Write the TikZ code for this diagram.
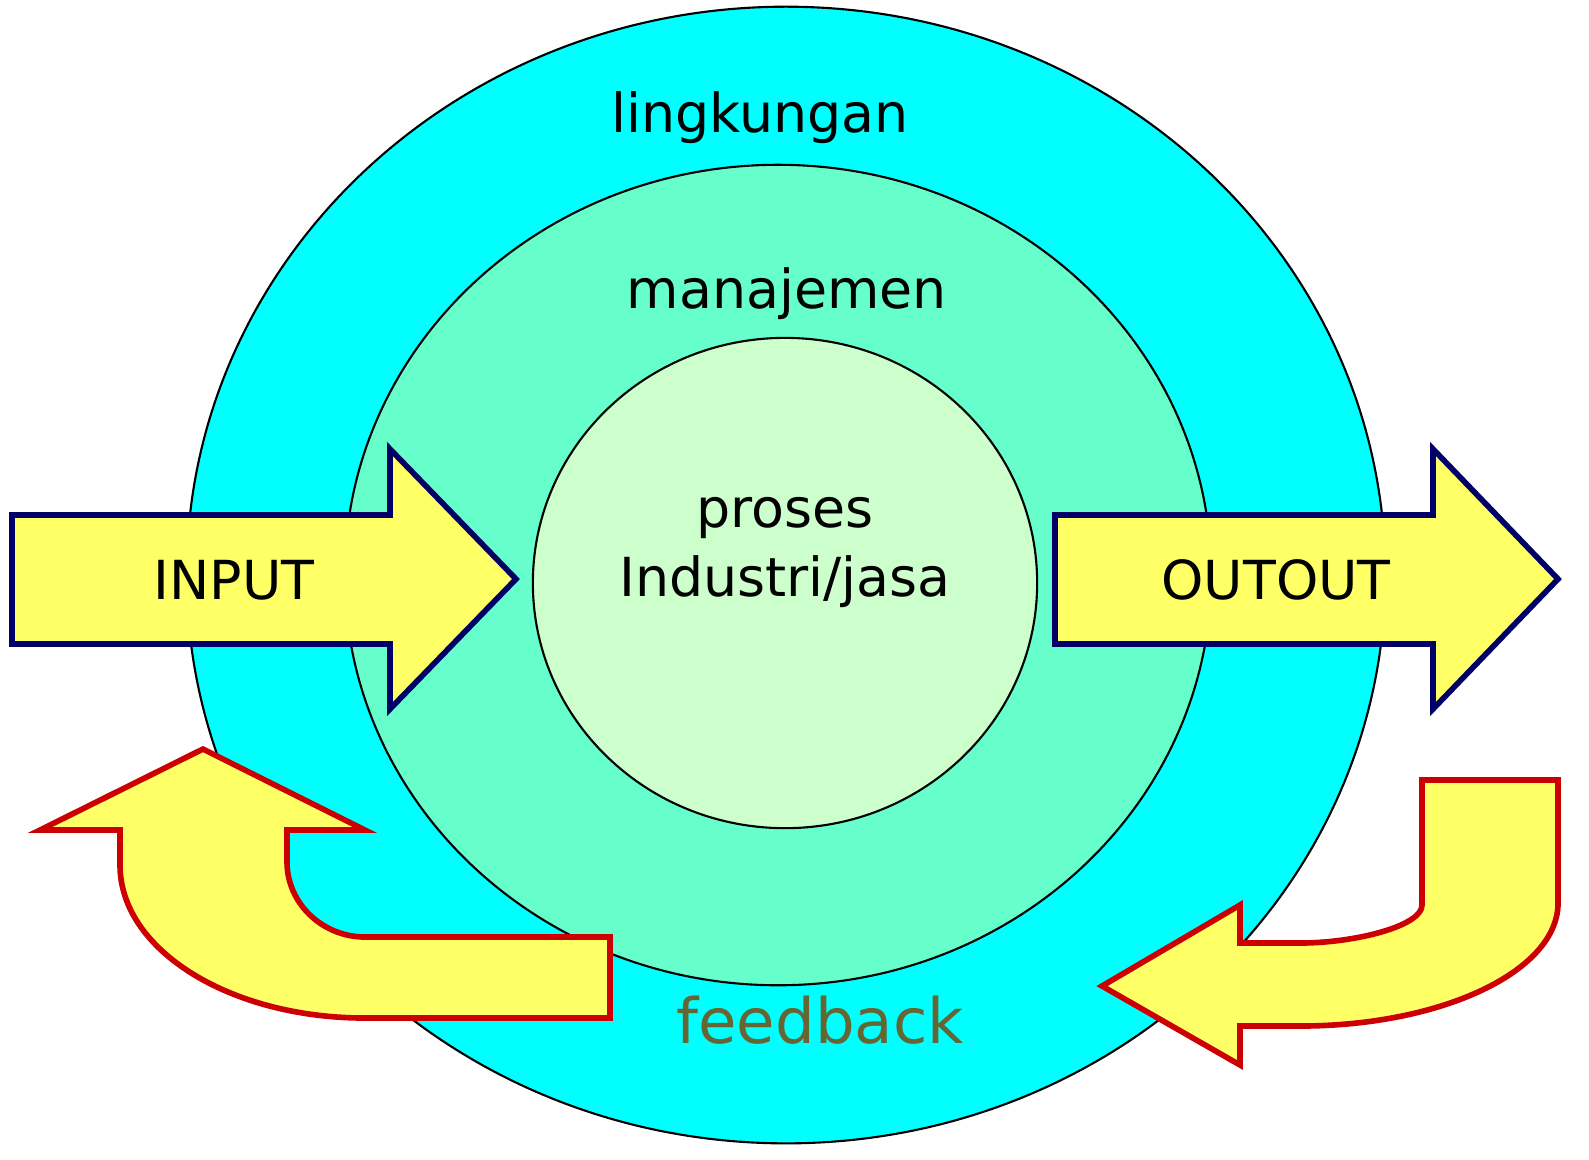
\documentclass[tikz,border=0pt]{standalone}
\usepackage{fontspec}
\setmainfont{DejaVu Sans}
\usepackage{tikz}
\usepackage{color}
\definecolor{lingk}{HTML}{00FFFF}
\definecolor{manaj}{HTML}{66FFCC}
\definecolor{proses}{HTML}{CCFFCC}
\definecolor{panahisi}{HTML}{FFFF66}
\definecolor{panahbiru}{HTML}{000066}
\definecolor{panahmerah}{HTML}{CC0000}
\definecolor{umpan}{HTML}{666633}

\begin{document}
\begin{tikzpicture}[x=0.01cm,y=-0.01cm]
              \tikzstyle{every node}+=[inner sep=0pt, anchor=base, font=\fontsize{15.3}{18}\selectfont]
              \tikzstyle{blokpanah}=[draw=panahbiru, line width=1.6pt, fill=panahisi, line join=miter]
              \tikzstyle{balikpanah}=[draw=panahmerah, line width=1.6pt, fill=panahisi, line join=miter]
              \useasboundingbox (0,0) rectangle (1589,1159);
              % lingkaran
              \draw [black, line width=0.6pt, fill=lingk] (786,575) ellipse [x radius=5.99cm, y radius=5.68cm];
              \draw [black, line width=0.6pt, fill=manaj] (778,575) ellipse [x radius=4.33cm, y radius=4.10cm];
              \draw [black, line width=0.6pt, fill=proses] (785,583) ellipse [x radius=2.52cm, y radius=2.45cm];
              \node (txtling) at (760,132) {lingkungan};
              \node (txtman) at (787,308) {manajemen};
              \node (txtproses) at (785,527) {proses};
              \node (txtindustri) at (785,596) {Industri/jasa};
              % input / output
              \draw [blokpanah] (12,515) -- (390,515) -- (390,449) -- (516,579) -- (390,709) -- (390,644) -- (12,644) -- cycle;
              \node (txtinput) at (234,599) {INPUT};
              \draw [blokpanah] (1055,515) -- (1433,515) -- (1433,449) -- (1558,579) -- (1433,709) -- (1433,644) -- (1055,644) -- cycle;
              \node (txtoutput) at (1276,599) {OUTOUT};
              % feedback
              \draw [balikpanah] (203,749) -- (365,830) -- (287,830) -- (287,862)
                .. controls (287,903) and (322,937) .. (365,937) -- (610,937) -- (610,1018) -- (365,1018)
                .. controls (230,1018) and (120,950) .. (120,865) -- (120,830) -- (40,830) -- cycle;
              \draw [balikpanah] (1422,780) -- (1558,780) -- (1558,903)
                .. controls (1558,971) and (1442,1026) .. (1300,1026) -- (1240,1026) -- (1240,1065) -- (1102,986)
                -- (1240,905) -- (1240,943) -- (1300,943) .. controls (1355,943) and (1422,926) .. (1422,905) -- cycle;
              \node [text=umpan, font=\fontsize{17.8}{21}\selectfont] (txtfeedback) at (820,1043) {feedback};
            \end{tikzpicture}
\end{document}
